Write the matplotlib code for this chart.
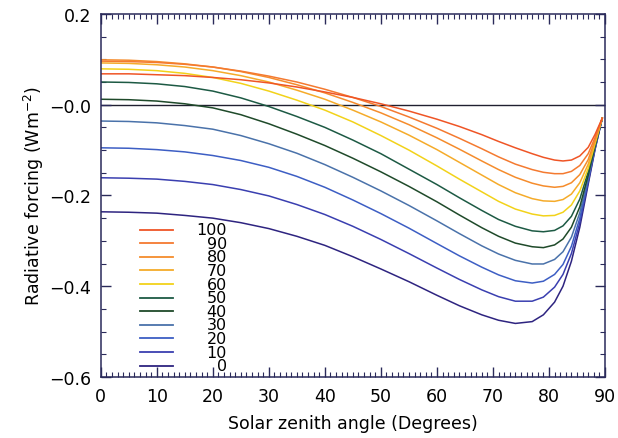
import matplotlib
matplotlib.use("Agg")
import matplotlib.pyplot as plt
from matplotlib.ticker import MultipleLocator, FixedLocator

# Solar zenith angle (degrees) at which curves were read
angles = [0, 5, 10, 15, 20, 25, 30, 35, 40, 45, 50, 55, 60, 64, 68, 71, 74, 77, 79, 81, 82.5, 84, 85.5, 87, 88.2, 89.5]

labels = ["0", "10", "20", "30", "40", "50", "60", "70", "80", "90", "100"]

f0   = [-0.236, -0.237, -0.239, -0.244, -0.250, -0.260, -0.273, -0.290, -0.310, -0.335, -0.362, -0.390, -0.420, -0.443, -0.463, -0.475, -0.482, -0.478, -0.463, -0.435, -0.400, -0.345, -0.270, -0.175, -0.100, -0.030]
f10  = [-0.161, -0.162, -0.164, -0.169, -0.176, -0.187, -0.201, -0.220, -0.242, -0.268, -0.297, -0.328, -0.360, -0.385, -0.408, -0.423, -0.433, -0.433, -0.424, -0.402, -0.374, -0.328, -0.260, -0.170, -0.098, -0.030]
f20  = [-0.095, -0.096, -0.099, -0.104, -0.112, -0.123, -0.138, -0.158, -0.182, -0.210, -0.240, -0.272, -0.306, -0.333, -0.358, -0.375, -0.388, -0.393, -0.389, -0.374, -0.352, -0.312, -0.250, -0.165, -0.096, -0.030]
f30  = [-0.036, -0.037, -0.040, -0.046, -0.054, -0.068, -0.086, -0.107, -0.132, -0.160, -0.190, -0.222, -0.256, -0.284, -0.311, -0.329, -0.343, -0.351, -0.351, -0.341, -0.324, -0.292, -0.238, -0.160, -0.094, -0.030]
f40  = [0.012, 0.011, 0.008, 0.002, -0.007, -0.022, -0.042, -0.065, -0.090, -0.118, -0.148, -0.180, -0.214, -0.243, -0.271, -0.290, -0.305, -0.313, -0.315, -0.309, -0.296, -0.270, -0.225, -0.155, -0.092, -0.030]
f50  = [0.050, 0.049, 0.046, 0.040, 0.030, 0.015, -0.004, -0.026, -0.050, -0.078, -0.108, -0.142, -0.176, -0.205, -0.233, -0.253, -0.268, -0.278, -0.280, -0.277, -0.267, -0.246, -0.208, -0.148, -0.090, -0.030]
f60  = [0.079, 0.078, 0.075, 0.069, 0.060, 0.047, 0.030, 0.010, -0.012, -0.038, -0.068, -0.100, -0.135, -0.164, -0.192, -0.213, -0.230, -0.241, -0.245, -0.244, -0.237, -0.221, -0.190, -0.140, -0.087, -0.030]
f70  = [0.092, 0.091, 0.088, 0.083, 0.075, 0.064, 0.050, 0.032, 0.012, -0.012, -0.038, -0.067, -0.099, -0.127, -0.155, -0.176, -0.194, -0.207, -0.212, -0.213, -0.209, -0.197, -0.172, -0.131, -0.083, -0.030]
f80  = [0.099, 0.098, 0.095, 0.090, 0.083, 0.073, 0.060, 0.044, 0.026, 0.005, -0.018, -0.044, -0.073, -0.098, -0.124, -0.143, -0.160, -0.173, -0.179, -0.182, -0.180, -0.172, -0.154, -0.121, -0.078, -0.030]
f90  = [0.096, 0.095, 0.093, 0.089, 0.083, 0.074, 0.063, 0.050, 0.034, 0.016, -0.004, -0.027, -0.052, -0.074, -0.097, -0.115, -0.131, -0.143, -0.149, -0.152, -0.152, -0.147, -0.134, -0.108, -0.073, -0.030]
f100 = [0.068, 0.068, 0.066, 0.064, 0.060, 0.055, 0.048, 0.039, 0.028, 0.016, 0.002, -0.014, -0.032, -0.048, -0.066, -0.081, -0.095, -0.108, -0.116, -0.122, -0.124, -0.122, -0.113, -0.094, -0.066, -0.030]

series = [f0, f10, f20, f30, f40, f50, f60, f70, f80, f90, f100]
colors = ["#2e2480", "#3a3fb0", "#3d5ec4", "#4a72aa", "#1f4a2a",
          "#1d5a44", "#f2d21a", "#f5ab2a", "#f58c2c", "#f47a30", "#ef5526"]

x_ticks = [0, 10, 20, 30, 40, 50, 60, 70, 80, 90]
y_ticks = [0.2, 0.0, -0.2, -0.4, -0.6]
y_ticklabels = ["0.2", "\u22120.0", "\u22120.2", "\u22120.4", "\u22120.6"]

plt.rcParams['font.family'] = ['DejaVu Sans']
fig = plt.figure(figsize=(6.18, 4.39), dpi=100)
ax = fig.add_axes([0.163, 0.139, 0.816, 0.827])

ax.axhline(0.0, color="#202030", lw=1.0, zorder=1)
for vals, c in zip(series, colors):
    ax.plot(angles, vals, color=c, lw=1.1, zorder=2)

ax.set_xlim(0, 90)
ax.set_ylim(-0.6, 0.2)
ax.xaxis.set_major_locator(FixedLocator(x_ticks))
ax.xaxis.set_minor_locator(MultipleLocator(1))
ax.yaxis.set_major_locator(FixedLocator(y_ticks))
ax.yaxis.set_minor_locator(MultipleLocator(0.05))
ax.set_yticklabels(y_ticklabels)
ax.tick_params(which="both", direction="in", top=True, right=True, color="#2a2a5a")
ax.tick_params(which="major", length=7, width=1.0, labelsize=12.5, pad=7)
ax.tick_params(which="minor", length=3.5, width=0.8)
for s in ax.spines.values():
    s.set_color("#2a2a5a")
    s.set_linewidth(1.1)

ax.set_xlabel("Solar zenith angle (Degrees)", fontsize=12.5, labelpad=7)
ax.set_ylabel("Radiative forcing (Wm$^{-2}$)", fontsize=12.5, labelpad=2)

# legend (drawn manually: 100 at top to 0 at bottom)
top_y, step = 0.406, 0.0375
for i, (lab, c) in enumerate(zip(labels[::-1], colors[::-1])):
    yy = top_y - i * step
    ax.plot([0.077, 0.143], [yy, yy], color=c, lw=1.3, transform=ax.transAxes)
    ax.text(0.25, yy, lab, ha="right", va="center", fontsize=11.5,
            transform=ax.transAxes)

fig.savefig("out.png", dpi=100)
